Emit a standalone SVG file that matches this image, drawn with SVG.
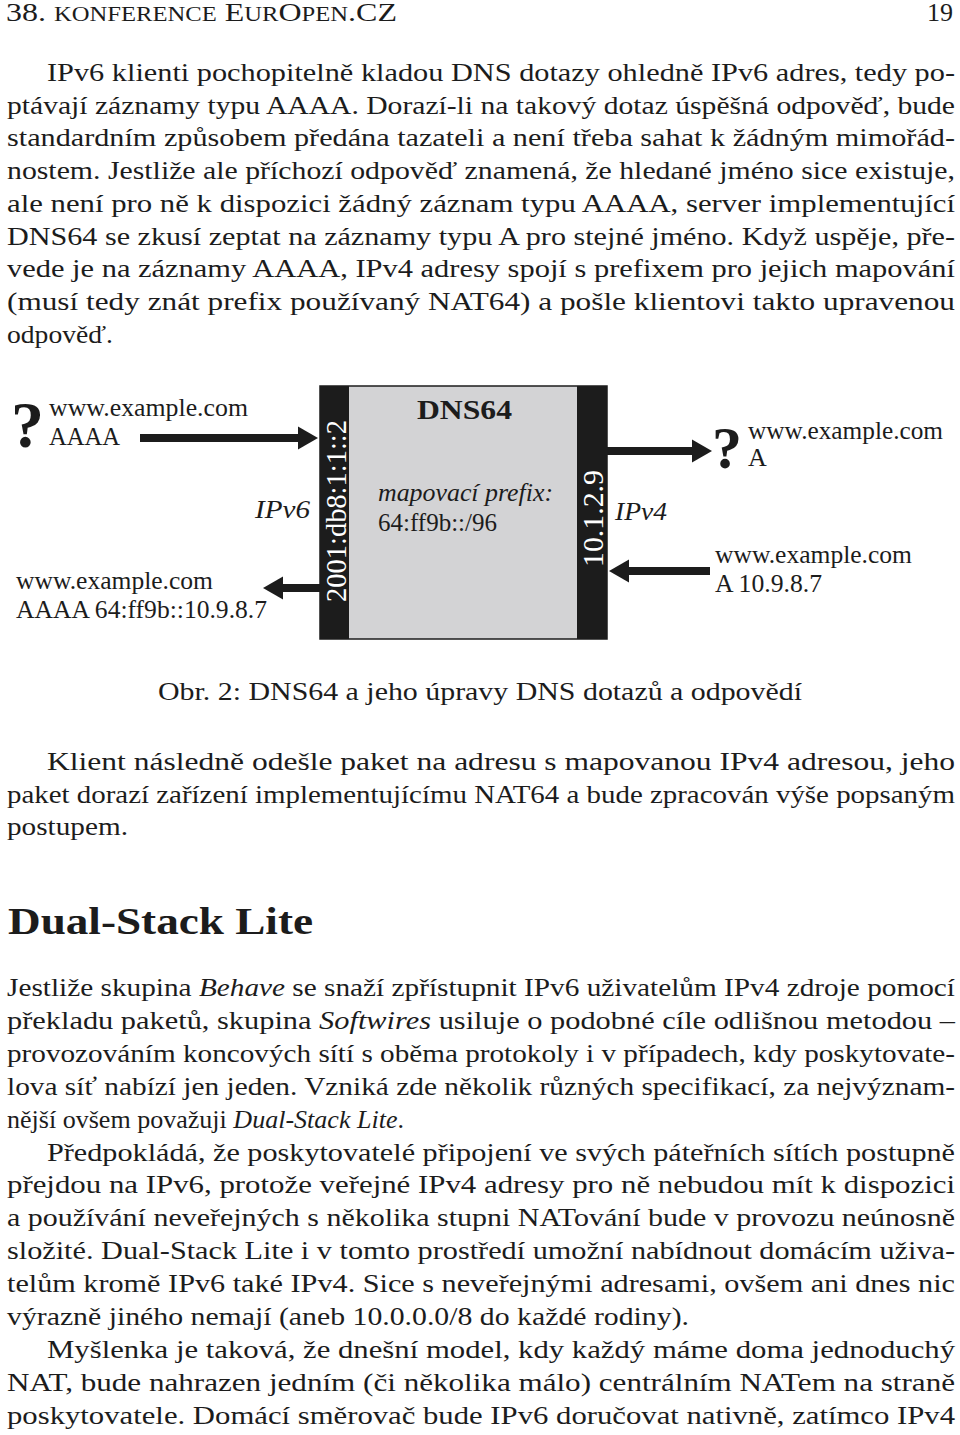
<svg xmlns="http://www.w3.org/2000/svg" width="960" height="1435" viewBox="0 0 960 1435">
<style>
.t{font-family:"Liberation Serif","Times New Roman",serif;font-size:26px;fill:#1c1c1c}
.i{font-style:italic}
.b{font-weight:bold}
.sc{font-size:20px}
.w{fill:#ffffff}
.sh{stroke:#1c1c1c;stroke-width:8;fill:none}
</style>
<defs>
<marker id="ah" markerUnits="userSpaceOnUse" markerWidth="21" markerHeight="24" refX="0" refY="11.5" orient="auto" overflow="visible">
<path d="M0,0 L20,11.5 L0,23 Z" fill="#1c1c1c"/>
</marker>
</defs>
<rect width="960" height="1435" fill="#ffffff"/>

<g id="page-header">
<text class="t" x="6" y="21" textLength="391" lengthAdjust="spacingAndGlyphs">38. <tspan class="sc">KONFERENCE</tspan> E<tspan class="sc">UR</tspan>O<tspan class="sc">PEN</tspan>.CZ</text>
<text class="t" x="953" y="21" text-anchor="end">19</text>
</g>

<g id="para1">
<text class="t" x="47" y="81" textLength="908" lengthAdjust="spacingAndGlyphs">IPv6 klienti pochopitelně kladou DNS dotazy ohledně IPv6 adres, tedy po-</text>
<text class="t" x="7" y="113.7" textLength="948" lengthAdjust="spacingAndGlyphs">ptávají záznamy typu AAAA. Dorazí-li na takový dotaz úspěšná odpověď, bude</text>
<text class="t" x="7" y="146.4" textLength="948" lengthAdjust="spacingAndGlyphs">standardním způsobem předána tazateli a není třeba sahat k žádným mimořád-</text>
<text class="t" x="7" y="179.1" textLength="948" lengthAdjust="spacingAndGlyphs">nostem. Jestliže ale příchozí odpověď znamená, že hledané jméno sice existuje,</text>
<text class="t" x="7" y="211.8" textLength="948" lengthAdjust="spacingAndGlyphs">ale není pro ně k dispozici žádný záznam typu AAAA, server implementující</text>
<text class="t" x="7" y="244.5" textLength="948" lengthAdjust="spacingAndGlyphs">DNS64 se zkusí zeptat na záznamy typu A pro stejné jméno. Když uspěje, pře-</text>
<text class="t" x="7" y="277.2" textLength="948" lengthAdjust="spacingAndGlyphs">vede je na záznamy AAAA, IPv4 adresy spojí s prefixem pro jejich mapování</text>
<text class="t" x="7" y="309.9" textLength="948" lengthAdjust="spacingAndGlyphs">(musí tedy znát prefix používaný NAT64) a pošle klientovi takto upravenou</text>
<text class="t" x="7" y="342.6" textLength="106" lengthAdjust="spacingAndGlyphs">odpověď.</text>
</g>

<g id="figure">
<g id="dns64">
<rect x="320" y="386" width="287" height="253" fill="#d3d3d5" stroke="#1c1c1c" stroke-width="1.5"/>
<rect x="320" y="386" width="29" height="253" fill="#1c1c1c"/>
<rect x="577" y="386" width="30" height="253" fill="#1c1c1c"/>
<text class="t w" transform="translate(346,511) rotate(-90)" text-anchor="middle" style="font-size:28.5px" textLength="182" lengthAdjust="spacingAndGlyphs">2001:db8:1:1::2</text>
<text class="t w" transform="translate(603,518.5) rotate(-90)" text-anchor="middle" style="font-size:28.5px" textLength="97" lengthAdjust="spacingAndGlyphs">10.1.2.9</text>
<text class="t b" x="417" y="419" style="font-size:27px" textLength="95" lengthAdjust="spacingAndGlyphs">DNS64</text>
<text class="t i" x="378" y="501" textLength="175" lengthAdjust="spacingAndGlyphs">mapovací prefix:</text>
<text class="t" x="378" y="531" textLength="119" lengthAdjust="spacingAndGlyphs">64:ff9b::/96</text>
</g>
<g id="client-query">
<text class="t b" x="11" y="447" style="font-size:66px">?</text>
<text class="t" x="49" y="416" textLength="199" lengthAdjust="spacingAndGlyphs">www.example.com</text>
<text class="t" x="49" y="445" textLength="71" lengthAdjust="spacingAndGlyphs">AAAA</text>
</g>
<g id="client-answer">
<text class="t" x="16" y="589" textLength="197" lengthAdjust="spacingAndGlyphs">www.example.com</text>
<text class="t" x="16" y="618" textLength="251" lengthAdjust="spacingAndGlyphs">AAAA 64:ff9b::10.9.8.7</text>
</g>
<g id="ipv6-label">
<text class="t i" x="255" y="518" textLength="55" lengthAdjust="spacingAndGlyphs">IPv6</text>
</g>
<g id="ipv4-label">
<text class="t i" x="615" y="520" textLength="52" lengthAdjust="spacingAndGlyphs">IPv4</text>
</g>
<g id="server-query">
<text class="t b" x="712" y="468" style="font-size:60px">?</text>
<text class="t" x="748" y="439" textLength="195" lengthAdjust="spacingAndGlyphs">www.example.com</text>
<text class="t" x="748" y="466">A</text>
</g>
<g id="server-answer">
<text class="t" x="715" y="563" textLength="197" lengthAdjust="spacingAndGlyphs">www.example.com</text>
<text class="t" x="715" y="592" textLength="107" lengthAdjust="spacingAndGlyphs">A 10.9.8.7</text>
</g>
<g id="connectors">
<line class="sh" x1="140" y1="438" x2="298" y2="438" marker-end="url(#ah)"/>
<line class="sh" x1="320" y1="588" x2="283" y2="588" marker-end="url(#ah)"/>
<line class="sh" x1="607" y1="451" x2="692" y2="451" marker-end="url(#ah)"/>
<line class="sh" x1="710" y1="571" x2="629" y2="571" marker-end="url(#ah)"/>
</g>
<text class="t" x="158" y="700" textLength="644" lengthAdjust="spacingAndGlyphs">Obr. 2: DNS64 a jeho úpravy DNS dotazů a odpovědí</text>
</g>

<g id="para2">
<text class="t" x="47" y="770" textLength="908" lengthAdjust="spacingAndGlyphs">Klient následně odešle paket na adresu s mapovanou IPv4 adresou, jeho</text>
<text class="t" x="7" y="803" textLength="948" lengthAdjust="spacingAndGlyphs">paket dorazí zařízení implementujícímu NAT64 a bude zpracován výše popsaným</text>
<text class="t" x="7" y="835" textLength="121" lengthAdjust="spacingAndGlyphs">postupem.</text>
</g>

<g id="heading">
<text class="t b" x="8" y="934" style="font-size:38px" textLength="305" lengthAdjust="spacingAndGlyphs">Dual-Stack Lite</text>
</g>

<g id="para3">
<text class="t" x="7" y="996" textLength="948" lengthAdjust="spacingAndGlyphs">Jestliže skupina <tspan class="i">Behave</tspan> se snaží zpřístupnit IPv6 uživatelům IPv4 zdroje pomocí</text>
<text class="t" x="7" y="1028.9" textLength="948" lengthAdjust="spacingAndGlyphs">překladu paketů, skupina <tspan class="i">Softwires</tspan> usiluje o podobné cíle odlišnou metodou –</text>
<text class="t" x="7" y="1061.8" textLength="948" lengthAdjust="spacingAndGlyphs">provozováním koncových sítí s oběma protokoly i v případech, kdy poskytovate-</text>
<text class="t" x="7" y="1094.7" textLength="948" lengthAdjust="spacingAndGlyphs">lova síť nabízí jen jeden. Vzniká zde několik různých specifikací, za nejvýznam-</text>
<text class="t" x="7" y="1127.6" textLength="397" lengthAdjust="spacingAndGlyphs">nější ovšem považuji <tspan class="i">Dual-Stack Lite</tspan>.</text>
<text class="t" x="47" y="1160.5" textLength="908" lengthAdjust="spacingAndGlyphs">Předpokládá, že poskytovatelé připojení ve svých páteřních sítích postupně</text>
<text class="t" x="7" y="1193.4" textLength="948" lengthAdjust="spacingAndGlyphs">přejdou na IPv6, protože veřejné IPv4 adresy pro ně nebudou mít k dispozici</text>
<text class="t" x="7" y="1226.3" textLength="948" lengthAdjust="spacingAndGlyphs">a používání neveřejných s několika stupni NATování bude v provozu neúnosně</text>
<text class="t" x="7" y="1259.2" textLength="948" lengthAdjust="spacingAndGlyphs">složité. Dual-Stack Lite i v tomto prostředí umožní nabídnout domácím uživa-</text>
<text class="t" x="7" y="1292.1" textLength="948" lengthAdjust="spacingAndGlyphs">telům kromě IPv6 také IPv4. Sice s neveřejnými adresami, ovšem ani dnes nic</text>
<text class="t" x="7" y="1325" textLength="682" lengthAdjust="spacingAndGlyphs">výrazně jiného nemají (aneb 10.0.0.0/8 do každé rodiny).</text>
<text class="t" x="47" y="1357.9" textLength="908" lengthAdjust="spacingAndGlyphs">Myšlenka je taková, že dnešní model, kdy každý máme doma jednoduchý</text>
<text class="t" x="7" y="1390.8" textLength="948" lengthAdjust="spacingAndGlyphs">NAT, bude nahrazen jedním (či několika málo) centrálním NATem na straně</text>
<text class="t" x="7" y="1423.7" textLength="948" lengthAdjust="spacingAndGlyphs">poskytovatele. Domácí směrovač bude IPv6 doručovat nativně, zatímco IPv4</text>
</g>
</svg>
